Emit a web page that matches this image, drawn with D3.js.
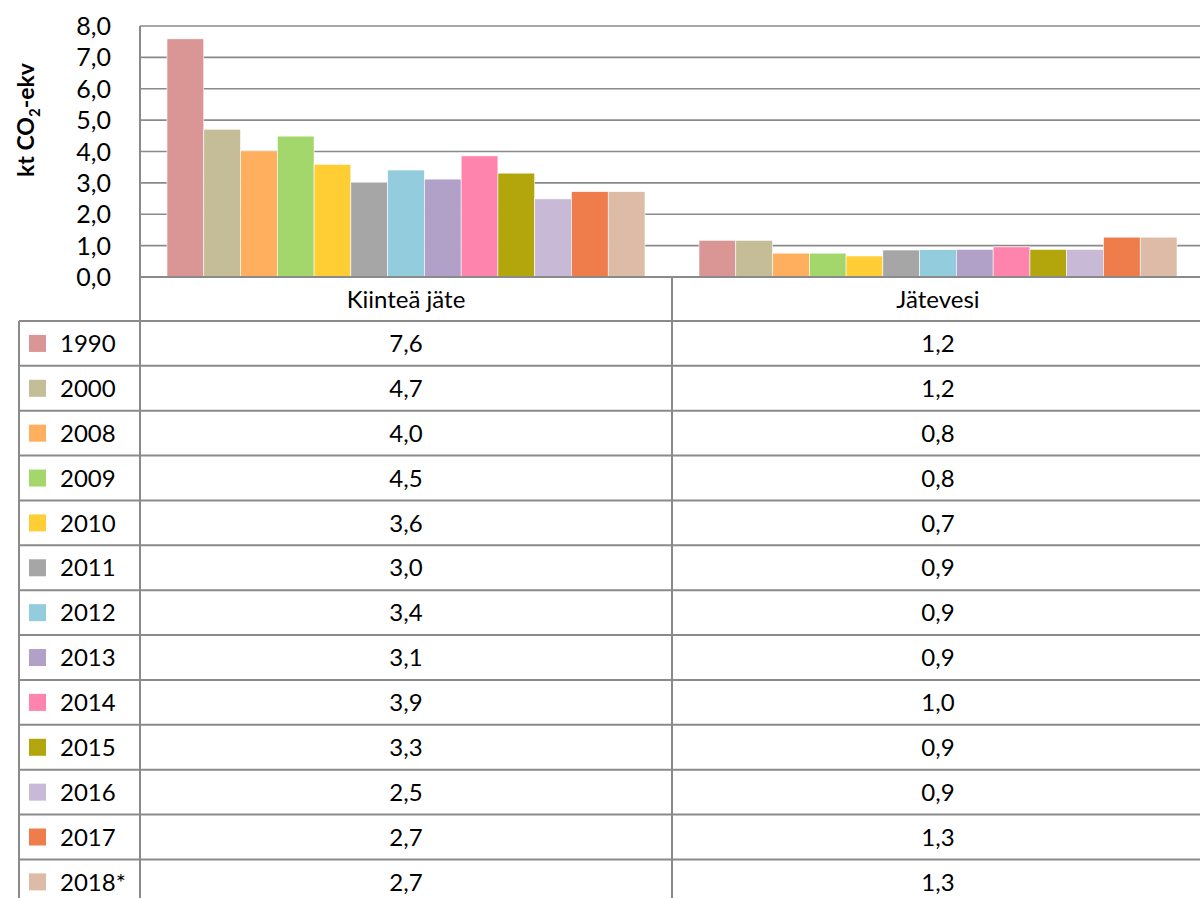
<!DOCTYPE html>
<html>
<head>
<meta charset="utf-8">
<script src="https://cdn.jsdelivr.net/npm/d3@7"></script>
<style>
  body { margin: 0; background: #fff; }
  text { font-family: Lato, "Open Sans", sans-serif; fill: #000; }
</style>
</head>
<body>
<script>

// categories and series
var categories = ["Kiinteä jäte", "Jätevesi"];
var years = ["1990", "2000", "2008", "2009", "2010", "2011", "2012", "2013", "2014", "2015", "2016", "2017", "2018*"];
var solidWaste = [7.59, 4.71, 4.02, 4.49, 3.59, 3.01, 3.41, 3.12, 3.86, 3.31, 2.49, 2.72, 2.72];
var wasteWater = [1.17, 1.17, 0.76, 0.76, 0.67, 0.86, 0.87, 0.88, 0.96, 0.88, 0.88, 1.27, 1.27];
var yTicks = [0, 1, 2, 3, 4, 5, 6, 7, 8];
var colors = ["#d99694", "#c4bd97", "#ffaf5e", "#a3d66b", "#ffce35", "#a6a6a6", "#93cddd",
              "#b1a0c7", "#ff84ad", "#b3a50c", "#c8b9d6", "#ef7d4b", "#ddbba6"];

var width = 1200, height = 898;
var gridColor = "#8a8a8a";

var svg = d3.select("body").append("svg")
    .attr("width", width)
    .attr("height", height);

svg.append("rect").attr("width", width).attr("height", height).attr("fill", "#fff");

var fi = d3.formatLocale({decimal: ",", thousands: " ", grouping: [3], currency: ["", "€"]});
var fmt = fi.format(".1f");

var x = d3.scaleBand().domain(categories).range([140, 1204]);
// bar group ~478px wide out of 532
var xi = d3.scaleBand().domain(years).range([27, x.bandwidth() - 27]);

var y = d3.scaleLinear().domain([0, 8]).range([277, 26]);

// gridlines
svg.append("g").selectAll("line")
    .data(yTicks)
    .enter().append("line")
    .attr("x1", 140).attr("x2", width)
    .attr("y1", d => y(d)).attr("y2", d => y(d))
    .attr("stroke", gridColor).attr("stroke-width", 1.6);

// y axis labels
var yAxis = d3.axisLeft(y).tickValues(yTicks).tickFormat(fmt).tickSize(0).tickPadding(0);
var ga = svg.append("g").attr("transform", "translate(111,0)").call(yAxis);
ga.select(".domain").remove();
ga.selectAll("text").style("font-family", "Lato, sans-serif").style("font-size", "25px").attr("fill", "#000").attr("dy", "0.34em");

// axis title
var title = svg.append("text")
    .attr("transform", "translate(34,120) rotate(-90)")
    .attr("text-anchor", "middle")
    .style("font-size", "23px")
    .style("font-weight", "bold");
title.append("tspan").text("kt CO");
title.append("tspan").text("2").style("font-size", "15px").attr("dy", "6");
title.append("tspan").text("-ekv").attr("dy", "-6");

// bars
var series = [solidWaste, wasteWater];
var groups = svg.append("g").selectAll("g")
    .data(categories)
    .enter().append("g")
    .attr("transform", d => "translate(" + x(d) + ",0)");

groups.selectAll("rect")
    .data((c, ci) => years.map((yr, i) => ({year: yr, value: series[ci][i], i: i})))
    .enter().append("rect")
    .attr("x", d => xi(d.year))
    .attr("width", xi.bandwidth())
    .attr("y", d => y(d.value))
    .attr("height", d => y(0) - y(d.value))
    .attr("fill", d => colors[d.i])
    .attr("stroke", "#fff")
    .attr("stroke-width", 0.6);

// table
var headerTop = 277, rowTop = 321, rowH = 44.87;
var bottom = height + 10;
var tbl = svg.append("g");

// axis line / baseline
tbl.append("line").attr("x1", 140).attr("x2", width).attr("y1", headerTop).attr("y2", headerTop)
    .attr("stroke", gridColor).attr("stroke-width", 2);

// horizontal row lines
tbl.selectAll("line.row")
    .data(d3.range(years.length))
    .enter().append("line").attr("class", "row")
    .attr("x1", 19).attr("x2", width)
    .attr("y1", i => rowTop + i * rowH).attr("y2", i => rowTop + i * rowH)
    .attr("stroke", gridColor).attr("stroke-width", 2);

// vertical lines
tbl.append("line").attr("x1", 19).attr("x2", 19).attr("y1", rowTop).attr("y2", bottom)
    .attr("stroke", gridColor).attr("stroke-width", 2);
tbl.append("line").attr("x1", 140).attr("x2", 140).attr("y1", 26).attr("y2", bottom)
    .attr("stroke", gridColor).attr("stroke-width", 2);
tbl.append("line").attr("x1", x(categories[1])).attr("x2", x(categories[1])).attr("y1", headerTop).attr("y2", bottom)
    .attr("stroke", gridColor).attr("stroke-width", 2);

// header labels
tbl.selectAll("text.cat")
    .data(categories)
    .enter().append("text").attr("class", "cat")
    .attr("x", d => x(d) + x.bandwidth() / 2)
    .attr("y", (headerTop + rowTop) / 2)
    .attr("dy", "0.36em")
    .attr("text-anchor", "middle")
    .style("font-size", "24px")
    .text(d => d);

// legend column
var rows = tbl.selectAll("g.leg")
    .data(years)
    .enter().append("g").attr("class", "leg")
    .attr("transform", (d, i) => "translate(0," + (rowTop + i * rowH + rowH / 2) + ")");

rows.append("rect")
    .attr("x", 29).attr("y", -8.5).attr("width", 17).attr("height", 17)
    .attr("fill", (d, i) => colors[i]);

rows.append("text")
    .attr("x", 60).attr("dy", "0.36em")
    .style("font-size", "24px")
    .text(d => d);

// value cells
categories.forEach(function (c, ci) {
    rows.append("text")
        .attr("x", x(c) + x.bandwidth() / 2)
        .attr("dy", "0.36em")
        .attr("text-anchor", "middle")
        .style("font-size", "24px")
        .text((d, i) => fmt(series[ci][i]));
});

</script>
</body>
</html>
